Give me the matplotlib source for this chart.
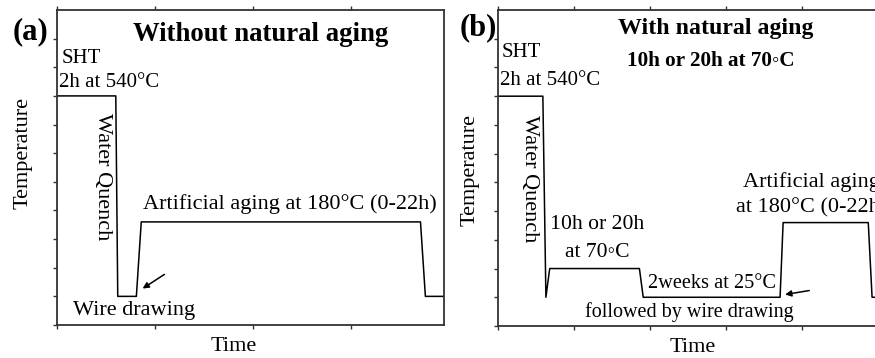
import matplotlib
matplotlib.use("Agg")
import matplotlib.pyplot as plt

plt.rcParams['font.family'] = ['Liberation Serif', 'DejaVu Serif']

# heat-treatment profiles (arbitrary time / temperature units)
time_a = [0, 0.60, 0.62, 0.81, 0.86, 3.71, 3.76, 3.96]
temp_a = [8, 8, 1, 1, 3.6, 3.6, 1, 1]

time_b = [0, 0.59, 0.63, 0.68, 1.86, 1.91, 3.71, 3.75, 4.87, 4.92, 5.1]
temp_b = [8, 8, 1, 2, 2, 1, 1, 3.6, 3.6, 1, 1]

xticks_a = [0, 1, 2, 3]
xticks_b = [0, 1, 2, 3, 4, 5]
yticks = list(range(0, 11))

W, H = 875, 358
fig = plt.figure(figsize=(W / 100, H / 100), dpi=100)

def px_axes(left, top, right, bottom):
    return fig.add_axes([left / W, 1 - bottom / H, (right - left) / W, (bottom - top) / H])

ax1 = px_axes(57, 10, 444, 325)
ax2 = px_axes(498, 10, 885, 326)

for ax, xt, xmax in [(ax1, xticks_a, 3.95), (ax2, xticks_b, 5.09)]:
    ax.set_xlim(0, xmax)
    ax.set_ylim(0, 11)
    ax.set_xticks(xt)
    ax.set_yticks(yticks)
    ax.set_xticklabels([])
    ax.set_yticklabels([])
    ax.tick_params(direction='out', length=3, width=1, color='#333333',
                   top=True, bottom=True, left=True, right=False)
    for s in ax.spines.values():
        s.set_color('#333333')
        s.set_linewidth(1.3)

fs = 16
fs_s = 15

# ---- panel (a)
ax1.plot(time_a, temp_a, color='black', lw=1.1)
ax1.set_ylabel('Temperature', fontsize=fs)
ax1.yaxis.set_label_coords(-0.062, 0.546)
ax1.set_xlabel('Time', fontsize=fs, va='top')
ax1.xaxis.set_label_coords(0.457, -0.038)
ax1.text(2.08, 10.13, 'Without natural aging', fontsize=19.3, fontweight='bold',
         ha='center', va='center')
ax1.text(0.05, 9.32, 'SHT', fontsize=fs_s, ha='left', va='center')
ax1.text(0.02, 8.48, '2h at 540°C', fontsize=fs_s, ha='left', va='center')
ax1.text(0.46, 7.40, 'Water Quench', fontsize=fs, rotation=-90, ha='center', va='top')
ax1.text(0.88, 4.22, 'Artificial aging at 180°C (0-22h)', fontsize=fs, ha='left', va='center')
ax1.text(0.16, 0.52, 'Wire drawing', fontsize=fs, ha='left', va='center')
ax1.annotate('', xy=(0.85, 1.22), xytext=(1.12, 1.82),
             arrowprops=dict(arrowstyle='-|>', color='black', lw=1.1, mutation_scale=9))
fig.text(13 / W, 1 - 32 / H, '(a)', fontsize=22, fontweight='bold', ha='left', va='center')

# ---- panel (b)
ax2.plot(time_b, temp_b, color='black', lw=1.1)
ax2.set_ylabel('Temperature', fontsize=fs)
ax2.yaxis.set_label_coords(-0.047, 0.494)
ax2.set_xlabel('Time', fontsize=fs, va='top')
ax2.xaxis.set_label_coords(0.504, -0.038)
ax2.text(2.86, 10.35, 'With natural aging', fontsize=17.2, fontweight='bold',
         ha='center', va='center')
ax2.text(2.80, 9.24, '10h or 20h at 70\u25e6C', fontsize=15.2, fontweight='bold',
         ha='center', va='center')
ax2.text(0.05, 9.51, 'SHT', fontsize=fs_s, ha='left', va='center')
ax2.text(0.03, 8.54, '2h at 540°C', fontsize=fs_s, ha='left', va='center')
ax2.text(0.42, 7.33, 'Water Quench', fontsize=fs, rotation=-90, ha='center', va='top')
ax2.text(1.30, 3.54, '10h or 20h', fontsize=15.6, ha='center', va='center')
ax2.text(1.30, 2.57, 'at 70\u25e6C', fontsize=15.6, ha='center', va='center')
ax2.text(1.97, 1.49, '2weeks at 25°C', fontsize=14.7, ha='left', va='center')
ax2.text(1.14, 0.49, 'followed by wire drawing', fontsize=14.5, ha='left', va='center')
ax2.text(4.12, 5.0, 'Artificial aging', fontsize=fs, ha='center', va='center', clip_on=False)
ax2.text(4.12, 4.10, 'at 180°C (0-22h)', fontsize=fs, ha='center', va='center', clip_on=False)
ax2.annotate('', xy=(3.74, 1.08), xytext=(4.13, 1.25),
             arrowprops=dict(arrowstyle='-|>', color='black', lw=1.1, mutation_scale=9))
fig.text(460 / W, 1 - 28 / H, '(b)', fontsize=22, fontweight='bold', ha='left', va='center')

fig.savefig('out.png', dpi=100)
